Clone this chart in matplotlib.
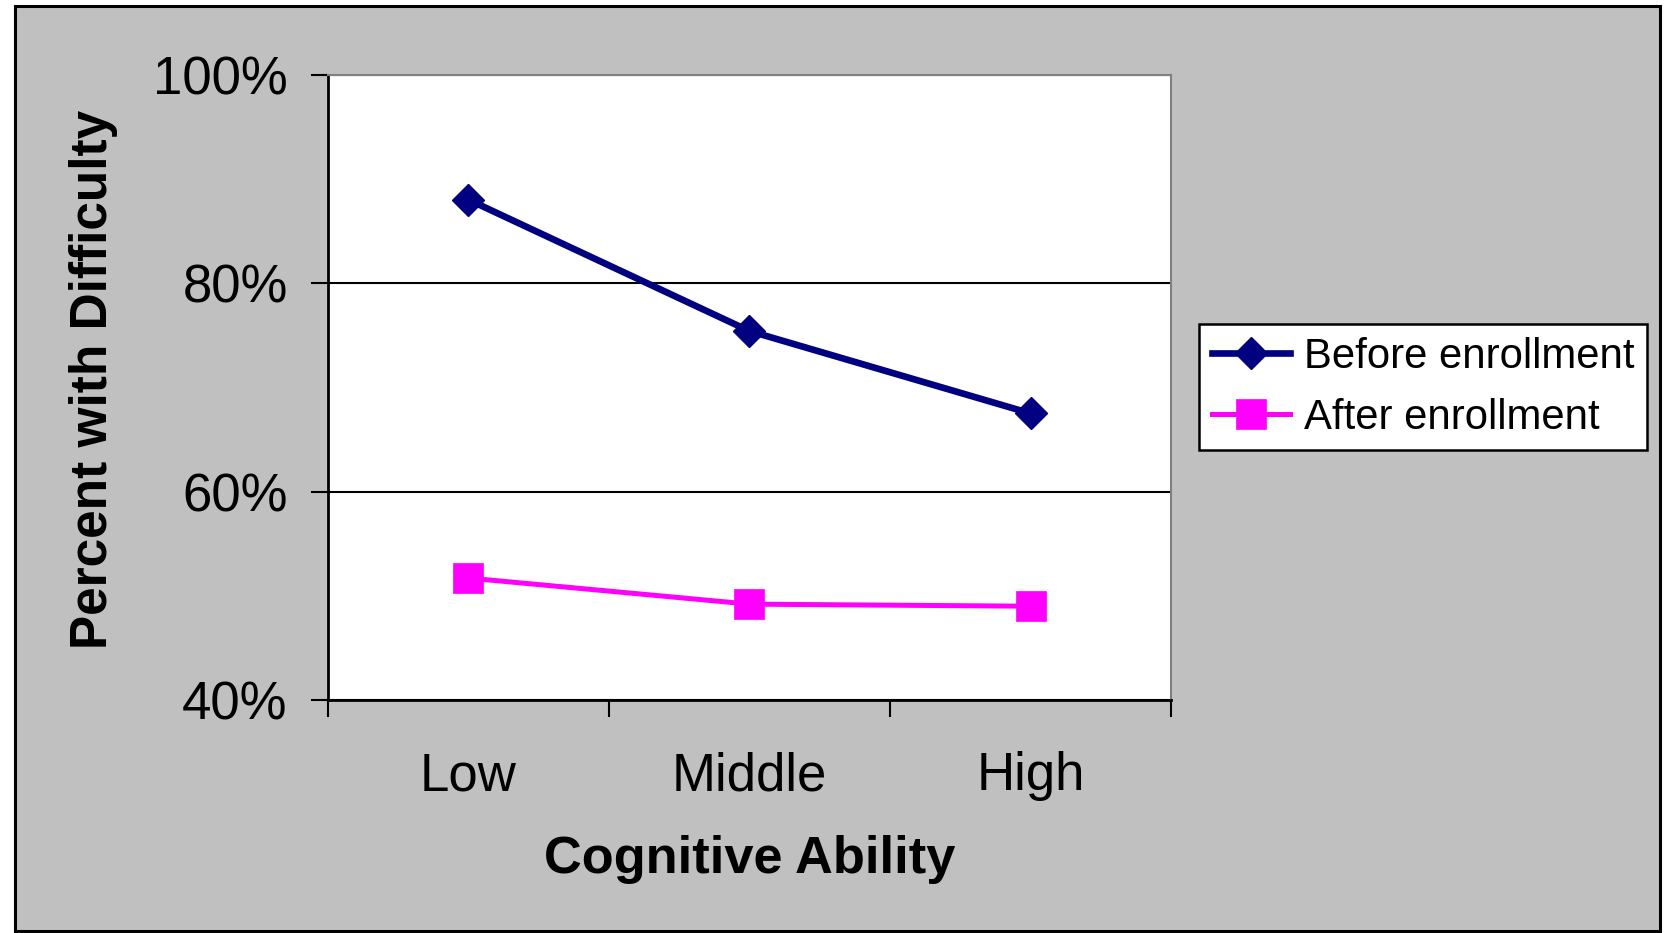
import matplotlib
matplotlib.use("Agg")
import matplotlib.pyplot as plt
from matplotlib.patches import Rectangle
from matplotlib.ticker import FuncFormatter

plt.rcParams['font.family'] = ['Liberation Sans', 'DejaVu Sans']

categories = ['Low', 'Middle', 'High']
before = [88.0, 75.4, 67.5]
after = [51.7, 49.2, 49.0]
yticks = [40, 60, 80, 100]

fig = plt.figure(figsize=(16.7, 9.33), dpi=100)
fig.patch.set_facecolor('white')

# grey chart area with black border
fig.patches.append(Rectangle((0.009, 0.002), 0.985, 0.9915, transform=fig.transFigure,
                             facecolor='#C0C0C0', edgecolor='black', linewidth=2.2, zorder=-5))

ax = fig.add_axes([0.1964, 0.2497, 0.5048, 0.6703])
ax.set_facecolor('white')

x = range(len(categories))
ax.plot(x, before, color='#000080', linewidth=4.8, marker='D', markersize=16.5,
        markeredgewidth=1, label='Before enrollment', zorder=3, clip_on=False)
ax.plot(x, after, color='#FF00FF', linewidth=3.6, marker='s', markersize=21,
        markeredgewidth=0.5, label='After enrollment', zorder=3, clip_on=False)

ax.set_xlim(-0.5, 2.5)
ax.set_ylim(40, 100)
ax.set_yticks(yticks)
ax.yaxis.set_major_formatter(FuncFormatter(lambda v, p: '%d%%' % v))
ax.set_xticks(x)
ax.set_xticklabels(categories)
ax.set_xticks([-0.5, 0.5, 1.5, 2.5], minor=True)

ax.grid(axis='y', color='black', linewidth=1.5, zorder=1)
ax.set_axisbelow(True)

ax.tick_params(axis='y', which='major', length=12, width=1.5, pad=17, labelsize=38, direction='out')
ax.tick_params(axis='x', which='major', length=0, pad=37, labelsize=38)
ax.tick_params(axis='x', which='minor', length=12, width=1.5, direction='out')

for side in ['left', 'bottom']:
    ax.spines[side].set_color('black')
    ax.spines[side].set_linewidth(2)
for side in ['top', 'right']:
    ax.spines[side].set_color('#808080')
    ax.spines[side].set_linewidth(1.5)

fig.text(0.4488, 1 - 860 / 933, 'Cognitive Ability', fontsize=37.7, fontweight='bold',
         ha='center', va='center')
fig.text(94 / 1670, 1 - 379 / 933, 'Percent with Difficulty', fontsize=37, fontweight='bold',
         ha='center', va='center', rotation=90)

leg = ax.legend(loc='upper left', bbox_to_anchor=(0.718, 0.6527), bbox_transform=fig.transFigure,
                borderaxespad=0, fontsize=30.2, frameon=True, fancybox=False, shadow=False,
                handlelength=1.86, handletextpad=0.35, borderpad=0.3, labelspacing=0.5,
                edgecolor='black', facecolor='white', framealpha=1)
leg.get_frame().set_linewidth(1.8)

fig.savefig('out.png', dpi=100)
